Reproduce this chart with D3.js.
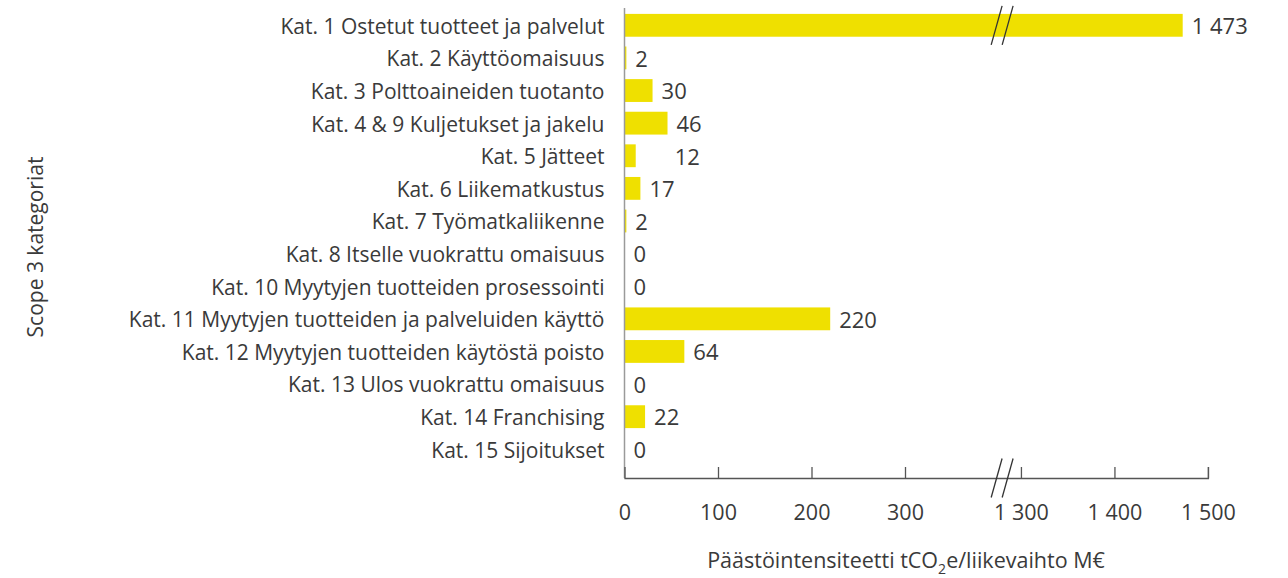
<!DOCTYPE html>
<html>
<head>
<meta charset="utf-8">
<script src="https://cdn.jsdelivr.net/npm/d3@7"></script>
<style>
  body { margin: 0; background: #fff; }
  text { font-family: "Open Sans", sans-serif; fill: #3a3a3a; }
</style>
</head>
<body>
<div id="chart"></div>
<script>
// Scope 3 categories, top to bottom.
var categories = [
  "Kat. 1 Ostetut tuotteet ja palvelut",
  "Kat. 2 Käyttöomaisuus",
  "Kat. 3 Polttoaineiden tuotanto",
  "Kat. 4 & 9 Kuljetukset ja jakelu",
  "Kat. 5 Jätteet",
  "Kat. 6 Liikematkustus",
  "Kat. 7 Työmatkaliikenne",
  "Kat. 8 Itselle vuokrattu omaisuus",
  "Kat. 10 Myytyjen tuotteiden prosessointi",
  "Kat. 11 Myytyjen tuotteiden ja palveluiden käyttö",
  "Kat. 12 Myytyjen tuotteiden käytöstä poisto",
  "Kat. 13 Ulos vuokrattu omaisuus",
  "Kat. 14 Franchising",
  "Kat. 15 Sijoitukset"
];

// Emission intensity, tCO2e / revenue M€.
var values = [1473, 2, 30, 46, 12, 17, 2, 0, 0, 220, 64, 0, 22, 0];

// Tick values on the broken x axis.
var tickValues = [0, 100, 200, 300, 1300, 1400, 1500];

var width = 1288, height = 578;
var margin = { left: 624.5, top: 9, right: 80, bottom: 100 };

// Where the axis is cut: everything between these values is skipped.
var breakLow = 398, breakHigh = 1274;

var svg = d3.select("#chart").append("svg")
  .attr("width", width)
  .attr("height", height);

// Piecewise scale: the flat middle segment hides the gap.
var k = 0.935;
var xBreak = margin.left + breakLow * k;
var x = d3.scaleLinear()
  .domain([0, breakLow, breakHigh, 1500])
  .range([margin.left, xBreak, xBreak, xBreak + (1500 - breakHigh) * k]);

var axisY = 478;

var y = d3.scaleBand()
  .domain(categories)
  .range([margin.top, 465.6])
  .paddingInner(0.3)
  .paddingOuter(0.15);

// Numbers use a narrow space as the thousands separator.
var fmt = d3.formatLocale({ decimal: ",", thousands: "\u00a0", grouping: [3], currency: ["", " €"] }).format(",d");

var rows = categories.map(function (c, i) { return { cat: c, value: values[i] }; });

// Bars.
svg.append("g").selectAll("rect")
  .data(rows)
  .enter().append("rect")
  .attr("x", x(0))
  .attr("y", function (d) { return y(d.cat); })
  .attr("width", function (d) { return x(d.value) - x(0); })
  .attr("height", y.bandwidth())
  .attr("fill", "#efe000");

// Value labels. Kat. 5 sits a bit further out in the original.
var labelNudge = { "Kat. 5 Jätteet": 30 };
svg.append("g").selectAll("text")
  .data(rows)
  .enter().append("text")
  .attr("x", function (d) { return x(d.value) + 9 + (labelNudge[d.cat] || 0); })
  .attr("y", function (d) { return y(d.cat) + y.bandwidth() / 2; })
  .attr("dy", "0.4em")
  .style("font-size", "22px")
  .text(function (d) { return fmt(d.value); });

// Category labels.
svg.append("g").selectAll("text")
  .data(categories)
  .enter().append("text")
  .attr("x", margin.left - 20)
  .attr("y", function (d) { return y(d) + y.bandwidth() / 2; })
  .attr("dy", "0.4em")
  .attr("text-anchor", "end")
  .style("font-size", "21px")
  .text(function (d) { return d; });

// Vertical axis line.
svg.append("line")
  .attr("x1", x(0)).attr("x2", x(0))
  .attr("y1", margin.top - 1).attr("y2", axisY)
  .attr("stroke", "#9a9a9a")
  .attr("stroke-width", 1.5);

// Horizontal axis with ticks pointing up.
var xAxis = d3.axisBottom(x)
  .tickValues(tickValues)
  .tickSize(-11)
  .tickPadding(27)
  .tickFormat(fmt);

var gx = svg.append("g")
  .attr("transform", "translate(0," + axisY + ")")
  .call(xAxis);
gx.select(".domain").attr("stroke", "#555").attr("stroke-width", 1.3);
gx.selectAll(".tick line").attr("stroke", "#555").attr("stroke-width", 1.3);
gx.selectAll(".tick").filter(function (d) { return d === 0; }).select("line").remove();
gx.selectAll(".tick text")
  .attr("fill", "#3a3a3a")
  .style("font-size", "21.5px")
  .style("font-family", "'Open Sans', sans-serif");

// Break markers: two slashes on the axis and on the long bar.
function slashes(cy, h) {
  [0, 11].forEach(function (off) {
    svg.append("line")
      .attr("x1", xBreak + off - h * 0.14).attr("y1", cy + h / 2)
      .attr("x2", xBreak + off + h * 0.14).attr("y2", cy - h / 2)
      .attr("stroke", "#333")
      .attr("stroke-width", 1.3);
  });
}
slashes(axisY, 39);
slashes(y(categories[0]) + y.bandwidth() / 2, 39);

// Axis titles.
var xt = svg.append("text")
  .attr("x", 906)
  .attr("y", 568)
  .attr("text-anchor", "middle")
  .style("font-size", "21.5px");
xt.append("tspan").text("Päästöintensiteetti tCO");
xt.append("tspan").attr("dy", 6).style("font-size", "14px").text("2");
xt.append("tspan").attr("dy", -6).text("e/liikevaihto M€");

svg.append("text")
  .attr("transform", "translate(43,247) rotate(-90)")
  .attr("text-anchor", "middle")
  .style("font-size", "21px")
  .text("Scope 3 kategoriat");
</script>
</body>
</html>
